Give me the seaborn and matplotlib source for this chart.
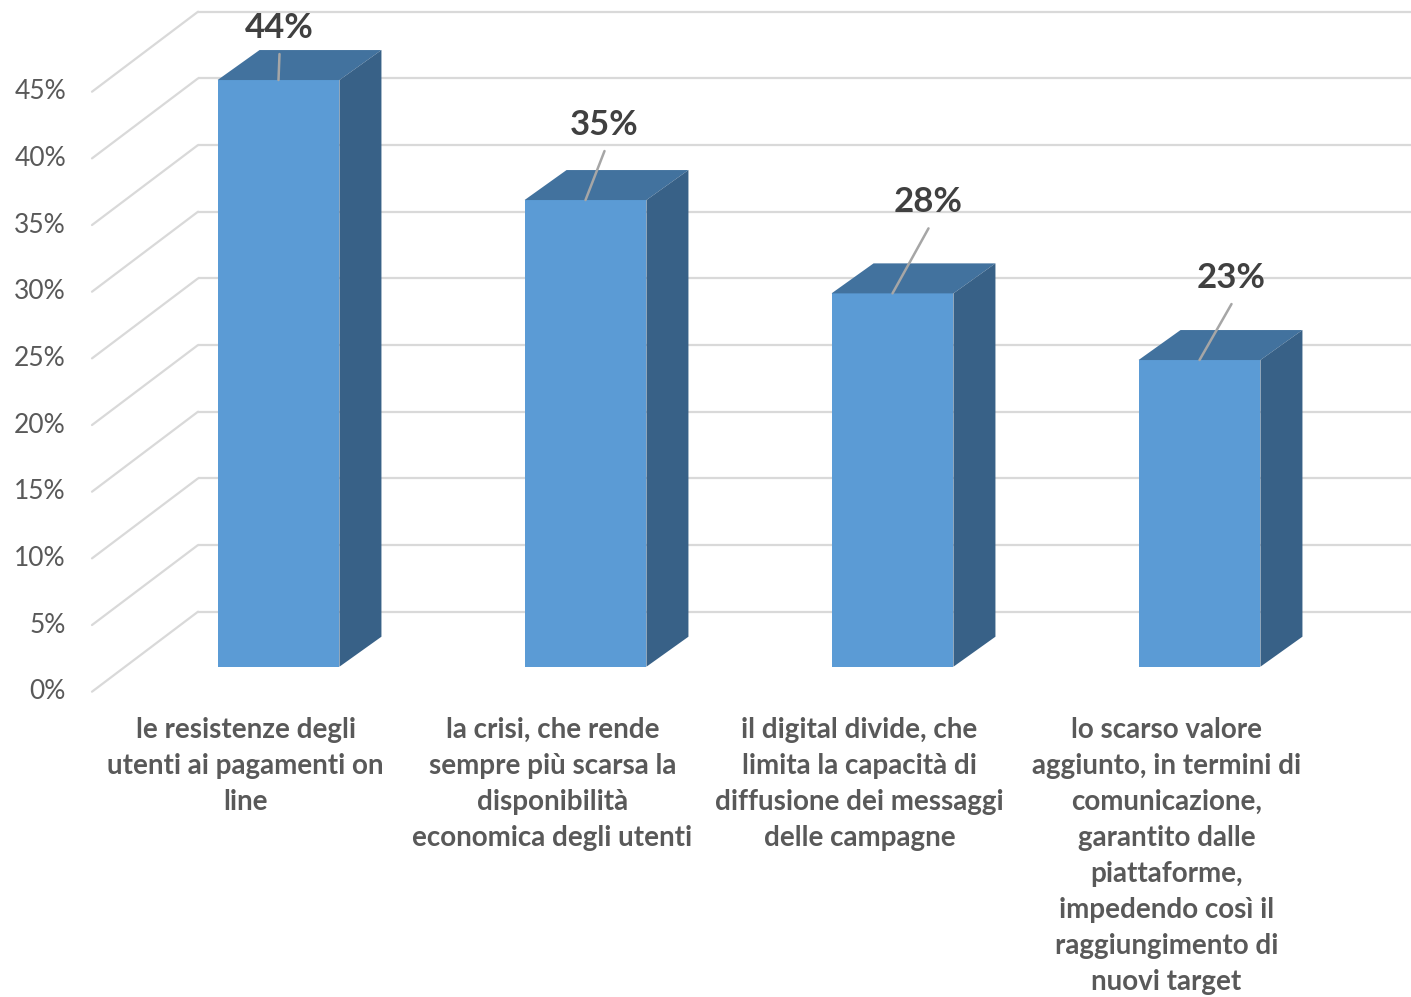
import matplotlib
matplotlib.use("Agg")
import matplotlib.pyplot as plt
from matplotlib.patches import Polygon
import seaborn as sns
import pandas as pd

# ---- data ----
categories = [
    "le resistenze degli\nutenti ai pagamenti on\nline",
    "la crisi, che rende\nsempre più scarsa la\ndisponibilità\neconomica degli utenti",
    "il digital divide, che\nlimita la capacità di\ndiffusione dei messaggi\ndelle campagne",
    "lo scarso valore\naggiunto, in termini di\ncomunicazione,\ngarantito dalle\npiattaforme,\nimpedendo così il\nraggiungimento di\nnuovi target",
]
values = [44, 35, 28, 23]
y_ticks = [0, 5, 10, 15, 20, 25, 30, 35, 40, 45]

# ---- style ----
FRONT = "#5B9BD5"
TOP = "#42729E"
SIDE = "#386187"
GRID = "#D9D9D9"
TICK_TXT = "#595959"
LABEL_TXT = "#404040"
LEADER = "#A6A6A6"
FONT = "Lato"

W, H, DPI = 1411, 997, 100
PX_X = 307.0      # pixels per category step
PX_Y = 13.333     # pixels per percentage point

# pseudo-3D depth offsets (pixels -> data units)
def dxp(px):
    return px / PX_X

def dyp(px):
    return px / PX_Y

DXB, DYB = dxp(42), dyp(30)      # bar depth
DXW, DYW = dxp(73), dyp(55)      # back wall relative to bar plane
DXF, DYF = dxp(-33), dyp(-25)    # front axis plane relative to bar plane
BAR_W = 0.397

# data label placement (pixel offsets from top-front centre of each bar)
label_off = [(1, 55), (19, 78), (36, 94), (32, 85)]
LEADER_GAP = 29

sns.set_theme(style="white")
plt.rcParams["font.family"] = [FONT, "DejaVu Sans"]

fig = plt.figure(figsize=(W / DPI, H / DPI), dpi=DPI)
ax = fig.add_axes([0, 0, 1, 1])

df = pd.DataFrame({"cat": categories, "val": values})
sns.barplot(data=df, x="cat", y="val", color=FRONT, saturation=1,
            width=BAR_W, ax=ax, zorder=3, linewidth=0)

x_left = -0.5
x_min = x_left - 125 / PX_X
x_max = x_min + W / PX_X
y_max = 666.7 / PX_Y
y_min = y_max - H / PX_Y

# back wall gridlines and left wall diagonals
for v in y_ticks:
    ax.plot([x_left + DXW, x_max], [v + DYW, v + DYW], color=GRID, lw=1.6,
            zorder=1, solid_capstyle="butt")
    ax.plot([x_left + DXF, x_left + DXW], [v + DYF, v + DYW], color=GRID,
            lw=1.6, zorder=1)
    ax.text(x_left + DXF - dxp(26), v + DYF, f"{v}%", ha="right", va="center",
            fontsize=19, color=TICK_TXT)

# top and side faces of each bar
for i, v in enumerate(values):
    x0, x1 = i - BAR_W / 2, i + BAR_W / 2
    top = Polygon([(x0, v), (x1, v), (x1 + DXB, v + DYB), (x0 + DXB, v + DYB)],
                  closed=True, facecolor=TOP, edgecolor="none", zorder=3)
    side = Polygon([(x1, 0), (x1, v), (x1 + DXB, v + DYB), (x1 + DXB, DYB)],
                   closed=True, facecolor=SIDE, edgecolor="none", zorder=3)
    ax.add_patch(top)
    ax.add_patch(side)

    ox, oy = label_off[i]
    lx, ly = i + dxp(ox), v + dyp(oy)
    ax.plot([i, lx], [v, ly - dyp(LEADER_GAP)], color=LEADER, lw=1.8, zorder=4)
    ax.text(lx, ly - dyp(3), f"{v}%", ha="center", va="center", fontsize=25,
            fontweight="bold", color=LABEL_TXT, zorder=5)

# category labels under the front edge
for i, c in enumerate(categories):
    ax.text(i + DXF, DYF - dyp(25), c, ha="center", va="top", fontsize=20,
            fontweight="bold", color=TICK_TXT, linespacing=1.48)

ax.set_xlim(x_min, x_max)
ax.set_ylim(y_min, y_max)
ax.set_axis_off()

fig.savefig("out.png", dpi=DPI)
